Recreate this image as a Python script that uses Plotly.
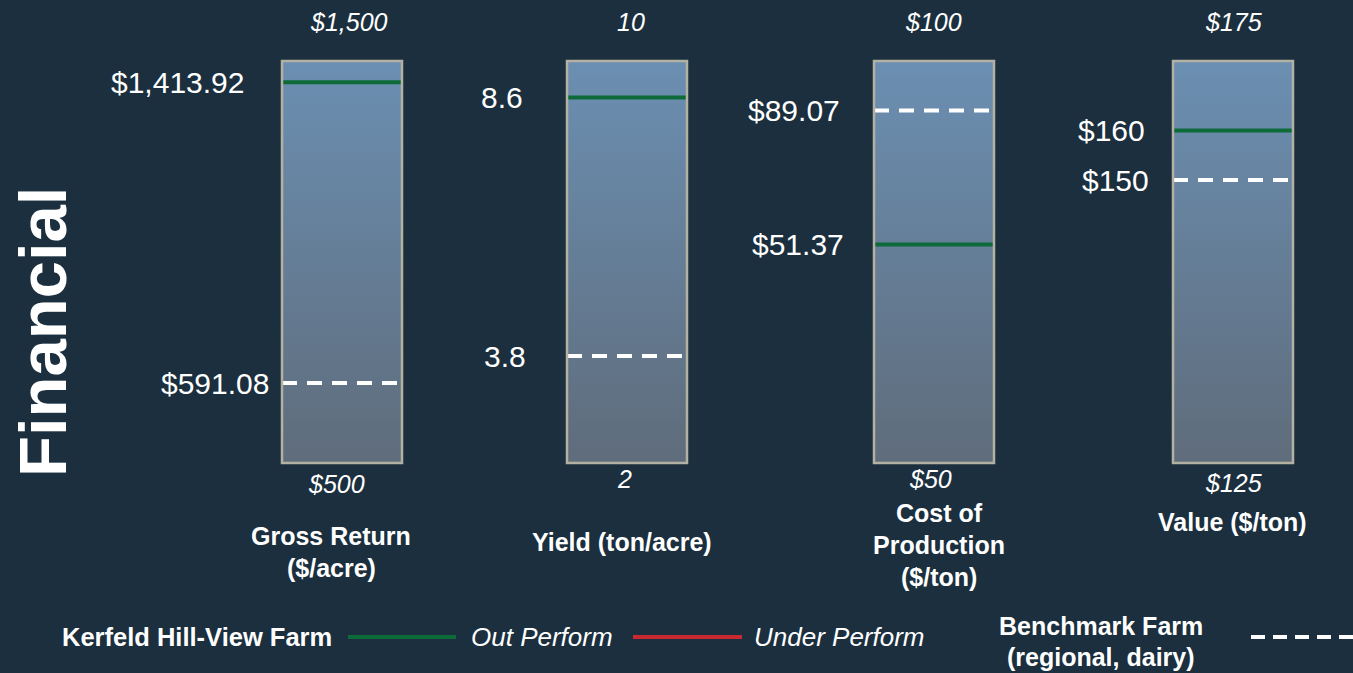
import plotly.graph_objects as go

# ---------------- data ----------------
categories = ["Gross Return<br>($/acre)", "Yield (ton/acre)",
              "Cost of<br>Production<br>($/ton)", "Value ($/ton)"]
farm_values = [1413.92, 8.6, 51.37, 160]
benchmark_values = [591.08, 3.8, 89.07, 150]
scale_max = [1500, 10, 100, 175]
scale_min = [500, 2, 50, 125]
higher_is_better = [True, True, False, True]
value_prefix = ["$", "", "$", "$"]
value_decimals = [2, 1, 2, 0]

# ---------------- layout / style ----------------
W, H = 1353, 673
BG = "#1b2f3e"
GREEN = "#0d6b39"
RED = "#c8282f"
WHITE = "#ffffff"
BORDER = "#b3b2a2"
GRAD_TOP = "#6b8fb2"
GRAD_BOT = "#5f6c7b"
FONT = "Liberation Sans, Arial, sans-serif"

box_left = [282, 567, 874, 1173]
box_w = 120
box_top, box_bot = 61, 463
# visible scale of each gauge as drawn in the original infographic
display_ranges = [[372.2, 1472.2], [1.813, 9.278], [-10.1, 103.0], [92.83, 174.04]]
top_label_x = [349, 631, 933, 1233]
top_label_y = 22
bot_label_x = [336, 624, 930, 1233]
bot_label_y = [484, 479, 479, 483]
cat_x = [331, 622, 939, 1232]
cat_first_y = [536, 542, 513, 522]
cat_line_gap = 32
farm_label_right = [246, 525, 846, 1147]
bench_label_right = [271, 528, 842, 1151]


def px(x):
    return x / W


def py(y):
    return 1 - y / H


def fmt_val(v, prefix, dec):
    return f"{prefix}{v:,.{dec}f}"


fig = go.Figure()
annotations = []
shapes = []
layout_axes = {}

ydom = [py(box_bot), py(box_top)]
for i in range(4):
    n = i + 1
    xa = "x" if n == 1 else f"x{n}"
    yb = "y" if n == 1 else f"y{n}"
    yd = f"y{n + 4}"
    xkey = "xaxis" if n == 1 else f"xaxis{n}"
    ybkey = "yaxis" if n == 1 else f"yaxis{n}"
    ydkey = f"yaxis{n + 4}"
    layout_axes[xkey] = dict(domain=[px(box_left[i]), px(box_left[i] + box_w)],
                             range=[0, 1], visible=False, anchor=yb, fixedrange=True)
    layout_axes[ybkey] = dict(domain=ydom, range=[0, 1], visible=False,
                              anchor=xa, fixedrange=True)
    layout_axes[ydkey] = dict(range=display_ranges[i], visible=False,
                              overlaying=yb, anchor=xa, fixedrange=True)

    # gradient gauge body
    fig.add_trace(go.Scatter(
        x=[0, 1, 1, 0, 0], y=[0, 0, 1, 1, 0], xaxis=xa, yaxis=yb,
        mode="lines", fill="toself",
        fillgradient=dict(type="vertical",
                          colorscale=[[0, GRAD_BOT], [1, GRAD_TOP]]),
        line=dict(width=0, color="rgba(0,0,0,0)"),
        hoverinfo="skip", showlegend=False))

    # benchmark (dashed)
    bv = benchmark_values[i]
    fig.add_trace(go.Scatter(
        x=[0, 1], y=[bv, bv], xaxis=xa, yaxis=yd, mode="lines",
        line=dict(color=WHITE, width=4, dash="15px,10px"),
        name="Benchmark Farm", showlegend=False))

    # farm (green = out perform, red = under perform)
    fv = farm_values[i]
    better = (fv > bv) if higher_is_better[i] else (fv < bv)
    fig.add_trace(go.Scatter(
        x=[0, 1], y=[fv, fv], xaxis=xa, yaxis=yd, mode="lines",
        line=dict(color=GREEN if better else RED, width=4),
        name="Kerfeld Hill-View Farm", showlegend=False))

    # border
    shapes.append(dict(type="rect", xref=f"{xa} domain", yref=f"{yb} domain",
                       x0=0, x1=1, y0=0, y1=1,
                       line=dict(color=BORDER, width=2.5), fillcolor="rgba(0,0,0,0)"))

    # value labels
    annotations.append(dict(text=fmt_val(fv, value_prefix[i], value_decimals[i]),
                            xref="paper", x=px(farm_label_right[i]), xanchor="right",
                            yref=yd, y=fv, yanchor="middle", showarrow=False,
                            font=dict(family=FONT, size=30, color=WHITE)))
    annotations.append(dict(text=fmt_val(bv, value_prefix[i], value_decimals[i]),
                            xref="paper", x=px(bench_label_right[i]), xanchor="right",
                            yref=yd, y=bv, yanchor="middle", showarrow=False,
                            font=dict(family=FONT, size=30, color=WHITE)))

    # scale max / min labels
    annotations.append(dict(text=f"{value_prefix[i]}{scale_max[i]:,}",
                            xref="paper", yref="paper",
                            x=px(top_label_x[i]), y=py(top_label_y),
                            xanchor="center", yanchor="middle", showarrow=False,
                            font=dict(family=FONT, size=25, color=WHITE, style="italic")))
    annotations.append(dict(text=f"{value_prefix[i]}{scale_min[i]:,}",
                            xref="paper", yref="paper",
                            x=px(bot_label_x[i]), y=py(bot_label_y[i]),
                            xanchor="center", yanchor="middle", showarrow=False,
                            font=dict(family=FONT, size=25, color=WHITE, style="italic")))

    # category label (one annotation per line for tight line spacing)
    for k, line_text in enumerate(categories[i].split("<br>")):
        annotations.append(dict(text=line_text, xref="paper", yref="paper",
                                x=px(cat_x[i]), y=py(cat_first_y[i] + k * cat_line_gap),
                                xanchor="center", yanchor="middle", showarrow=False,
                                font=dict(family=FONT, size=25, color=WHITE, weight="bold")))

# section title
annotations.append(dict(text="Financial", xref="paper", yref="paper",
                        x=px(42), y=py(332), textangle=-90,
                        xanchor="center", yanchor="middle", showarrow=False,
                        font=dict(family=FONT, size=67, color=WHITE, weight="bold")))

# manual legend
legend_y = 637
annotations.append(dict(text="Kerfeld Hill-View Farm", xref="paper", yref="paper",
                        x=px(60), y=py(legend_y), xanchor="left", yanchor="middle",
                        showarrow=False,
                        font=dict(family=FONT, size=25.5, color=WHITE, weight="bold")))
shapes.append(dict(type="line", xref="paper", yref="paper",
                   x0=px(348), x1=px(456), y0=py(legend_y), y1=py(legend_y),
                   line=dict(color=GREEN, width=4)))
annotations.append(dict(text="Out Perform", xref="paper", yref="paper",
                        x=px(469), y=py(legend_y), xanchor="left", yanchor="middle",
                        showarrow=False,
                        font=dict(family=FONT, size=26, color=WHITE, style="italic")))
shapes.append(dict(type="line", xref="paper", yref="paper",
                   x0=px(633), x1=px(742), y0=py(legend_y), y1=py(legend_y),
                   line=dict(color=RED, width=4)))
annotations.append(dict(text="Under Perform", xref="paper", yref="paper",
                        x=px(752), y=py(legend_y), xanchor="left", yanchor="middle",
                        showarrow=False,
                        font=dict(family=FONT, size=26, color=WHITE, style="italic")))
for k, line_text in enumerate(["Benchmark Farm", "(regional, dairy)"]):
    annotations.append(dict(text=line_text, xref="paper", yref="paper",
                            x=px(1101), y=py(626 + k * 31), xanchor="center",
                            yanchor="middle", showarrow=False,
                            font=dict(family=FONT, size=25, color=WHITE, weight="bold")))
shapes.append(dict(type="line", xref="paper", yref="paper",
                   x0=px(1251), x1=px(1360), y0=py(legend_y), y1=py(legend_y),
                   line=dict(color=WHITE, width=4, dash="14px,8px")))

fig.update_layout(
    width=W, height=H,
    margin=dict(l=0, r=0, t=0, b=0),
    paper_bgcolor=BG, plot_bgcolor="rgba(0,0,0,0)",
    showlegend=False,
    annotations=annotations, shapes=shapes,
    **layout_axes,
)

fig.write_html("out.html", config={"displayModeBar": False},
               post_script="document.body.style.margin='0';"
                           "document.body.style.background='" + BG + "';"
                           "document.body.style.overflow='hidden';")
